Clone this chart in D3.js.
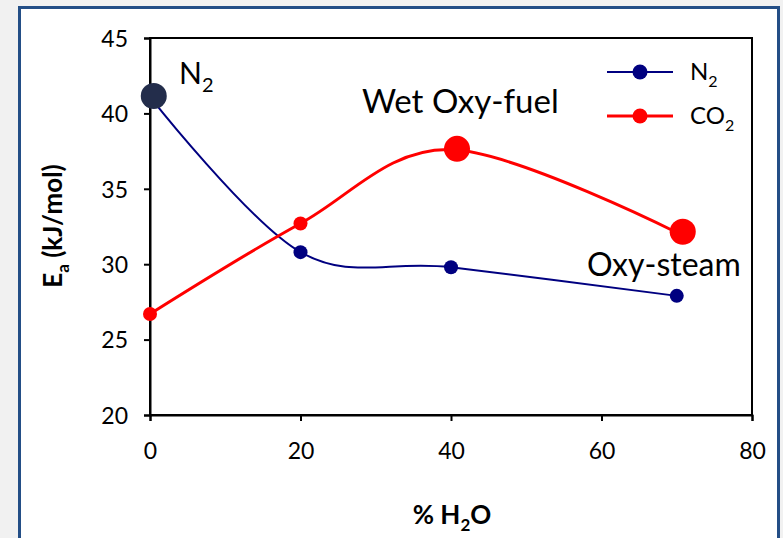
<!DOCTYPE html>
<html>
<head>
<meta charset="utf-8">
<script src="https://cdn.jsdelivr.net/npm/d3@7"></script>
<style>
  html, body { margin:0; padding:0; background:#f1f1f1; }
  svg { display:block; font-family: Lato, "Open Sans", sans-serif; }
</style>
</head>
<body>
<svg id="graph"></svg>
<script>
// data
var water = [0, 20, 40, 70];            // % H2O
var eaN2  = [41.1, 30.8, 29.8, 27.9];   // kJ/mol, N2 balance
var eaCO2 = [26.7, 32.7, 37.6, 32.1];   // kJ/mol, CO2 balance
var xTicks = [0, 20, 40, 60, 80];
var yTicks = [20, 25, 30, 35, 40, 45];
// highlighted conditions (big dots + labels)
var highlights = [
  {name: "N2",           x: 0.5,  y: 41.15, color: "#232d4b"},
  {name: "Wet Oxy-fuel", x: 40.8, y: 37.65, color: "#ff0000"},
  {name: "Oxy-steam",    x: 70.8, y: 32.15, color: "#ff0000"}
];

width = 783;
height = 538;
margin = {left:150, right:31, top:38, bottom:123};

svg = d3.select("#graph")
  .attr("width", width)
  .attr("height", height);

// outer frame
svg.append("rect")
  .attr("x", 19.5).attr("y", 7.5)
  .attr("width", 759).attr("height", 540)
  .attr("fill", "#fff")
  .attr("stroke", "#234e86")
  .attr("stroke-width", 3);

x = d3.scaleLinear().domain([0, 80]).range([margin.left, width - margin.right]);
y = d3.scaleLinear().domain([20, 45]).range([height - margin.bottom, margin.top]);

// plot box
svg.append("rect")
  .attr("x", x(0)).attr("y", y(45))
  .attr("width", x(80) - x(0)).attr("height", y(20) - y(45))
  .attr("fill", "none").attr("stroke", "#000").attr("stroke-width", 2);

// axes
gx = svg.append("g")
  .attr("transform", "translate(0," + y(20) + ")")
  .call(d3.axisBottom(x).tickValues(xTicks).tickSize(6).tickPadding(22));
gy = svg.append("g")
  .attr("transform", "translate(" + x(0) + ",0)")
  .call(d3.axisLeft(y).tickValues(yTicks).tickSize(6).tickPadding(16));
[gx, gy].forEach(function(g) {
  g.select(".domain").attr("stroke", "#000").attr("stroke-width", 2);
  g.selectAll(".tick line").attr("stroke", "#000").attr("stroke-width", 2);
  g.selectAll(".tick text").attr("fill", "#000")
    .style("font-size", "23px").style("font-family", "Lato, sans-serif");
});
gy.selectAll(".tick text").attr("dy", "0.36em");

// axis titles
xt = svg.append("text")
  .attr("x", 452).attr("y", 524)
  .attr("text-anchor", "middle")
  .style("font-size", "26px").style("font-weight", "bold");
xt.append("tspan").text("% H");
xt.append("tspan").attr("dy", 7).style("font-size", "17px").text("2");
xt.append("tspan").attr("dy", -7).text("O");

yt = svg.append("text")
  .attr("transform", "translate(62,226) rotate(-90)")
  .attr("text-anchor", "middle")
  .style("font-size", "26px").style("font-weight", "bold");
yt.append("tspan").text("E");
yt.append("tspan").attr("dy", 7).style("font-size", "17px").text("a");
yt.append("tspan").attr("dy", -7).text(" (kJ/mol)");

// series
series = [
  {name: "N2",  values: eaN2,  color: "#000080", lw: 2},
  {name: "CO2", values: eaCO2, color: "#ff0000", lw: 3}
];
line = d3.line()
  .x(function(d) { return x(d[0]); })
  .y(function(d) { return y(d[1]); })
  .curve(d3.curveCardinal.tension(0));

series.forEach(function(s) {
  pts = water.map(function(w, i) { return [w, s.values[i]]; });
  svg.append("path")
    .datum(pts)
    .attr("d", line)
    .attr("fill", "none")
    .attr("stroke", s.color)
    .attr("stroke-width", s.lw);
  svg.append("g").selectAll("circle")
    .data(pts).enter().append("circle")
      .attr("cx", function(d) { return x(d[0]); })
      .attr("cy", function(d) { return y(d[1]); })
      .attr("r", 7)
      .attr("fill", s.color);
});

// highlight dots
svg.append("g").selectAll("circle")
  .data(highlights).enter().append("circle")
    .attr("cx", function(d) { return x(d.x); })
    .attr("cy", function(d) { return y(d.y); })
    .attr("r", 13)
    .attr("fill", function(d) { return d.color; });

// annotations
lab = svg.append("text").attr("x", 179).attr("y", 84).style("font-size", "30px");
lab.append("tspan").text("N");
lab.append("tspan").attr("dy", 8).style("font-size", "20px").text("2");
svg.append("text").attr("x", 362).attr("y", 113).style("font-size", "33px").text("Wet Oxy-fuel");
svg.append("text").attr("x", 587).attr("y", 276).style("font-size", "32px").text("Oxy-steam");

// legend
leg = svg.append("g").selectAll("g")
  .data(series).enter().append("g")
    .attr("transform", function(d, i) { return "translate(607," + (72 + i * 44) + ")"; });
leg.append("line")
  .attr("x1", 0).attr("x2", 66)
  .attr("stroke", function(d) { return d.color; })
  .attr("stroke-width", function(d) { return d.lw; });
leg.append("circle")
  .attr("cx", 33).attr("r", 7.5)
  .attr("fill", function(d) { return d.color; });
lt = leg.append("text").attr("x", 83).attr("y", 8).style("font-size", "24px");
lt.append("tspan").text(function(d) { return d.name.slice(0, -1); });
lt.append("tspan").attr("dy", 7).style("font-size", "16px").text("2");
</script>
</body>
</html>
